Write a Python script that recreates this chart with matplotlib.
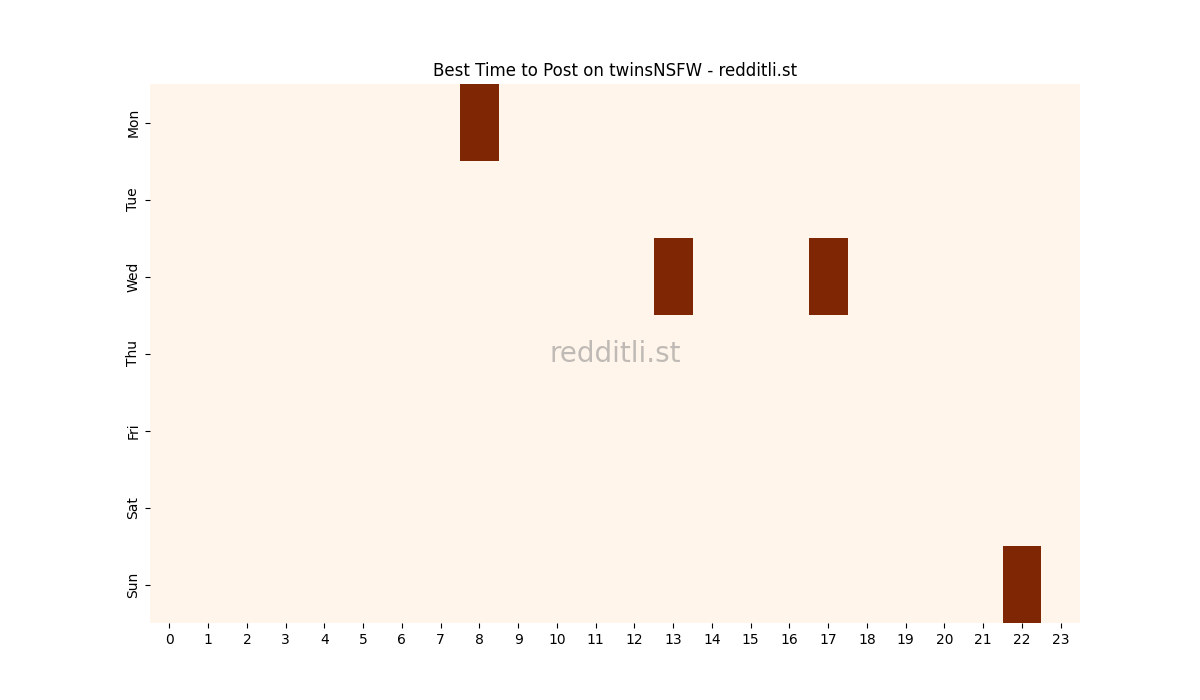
import numpy as np
import matplotlib
matplotlib.use("Agg")
import matplotlib.pyplot as plt

days = ['Mon', 'Tue', 'Wed', 'Thu', 'Fri', 'Sat', 'Sun']
hours = list(range(24))

# (day, hour) slots marked as best
best_days = ['Mon', 'Wed', 'Wed', 'Sun']
best_hours = [8, 13, 17, 22]

grid = np.zeros((len(days), len(hours)))
for d, h in zip(best_days, best_hours):
    grid[days.index(d), h] = 1

fig = plt.figure(figsize=(12, 7), dpi=100)
ax = plt.subplot(1, 1, 1)

ax.pcolormesh(grid, cmap='Oranges', vmin=0, vmax=1)
ax.set_xlim(0, len(hours))
ax.set_ylim(len(days), 0)

ax.set_xticks(np.arange(len(hours)) + 0.5)
ax.set_xticklabels([str(h) for h in hours])
ax.set_yticks(np.arange(len(days)) + 0.5)
ax.set_yticklabels(days, rotation=90, va='center')

for s in ax.spines.values():
    s.set_visible(False)

ax.set_title('Best Time to Post on twinsNSFW - redditli.st')
ax.text(0.5, 0.5, 'redditli.st', transform=ax.transAxes, ha='center', va='center',
        fontsize=20, color='gray', alpha=0.5)

fig.savefig('out.png')
